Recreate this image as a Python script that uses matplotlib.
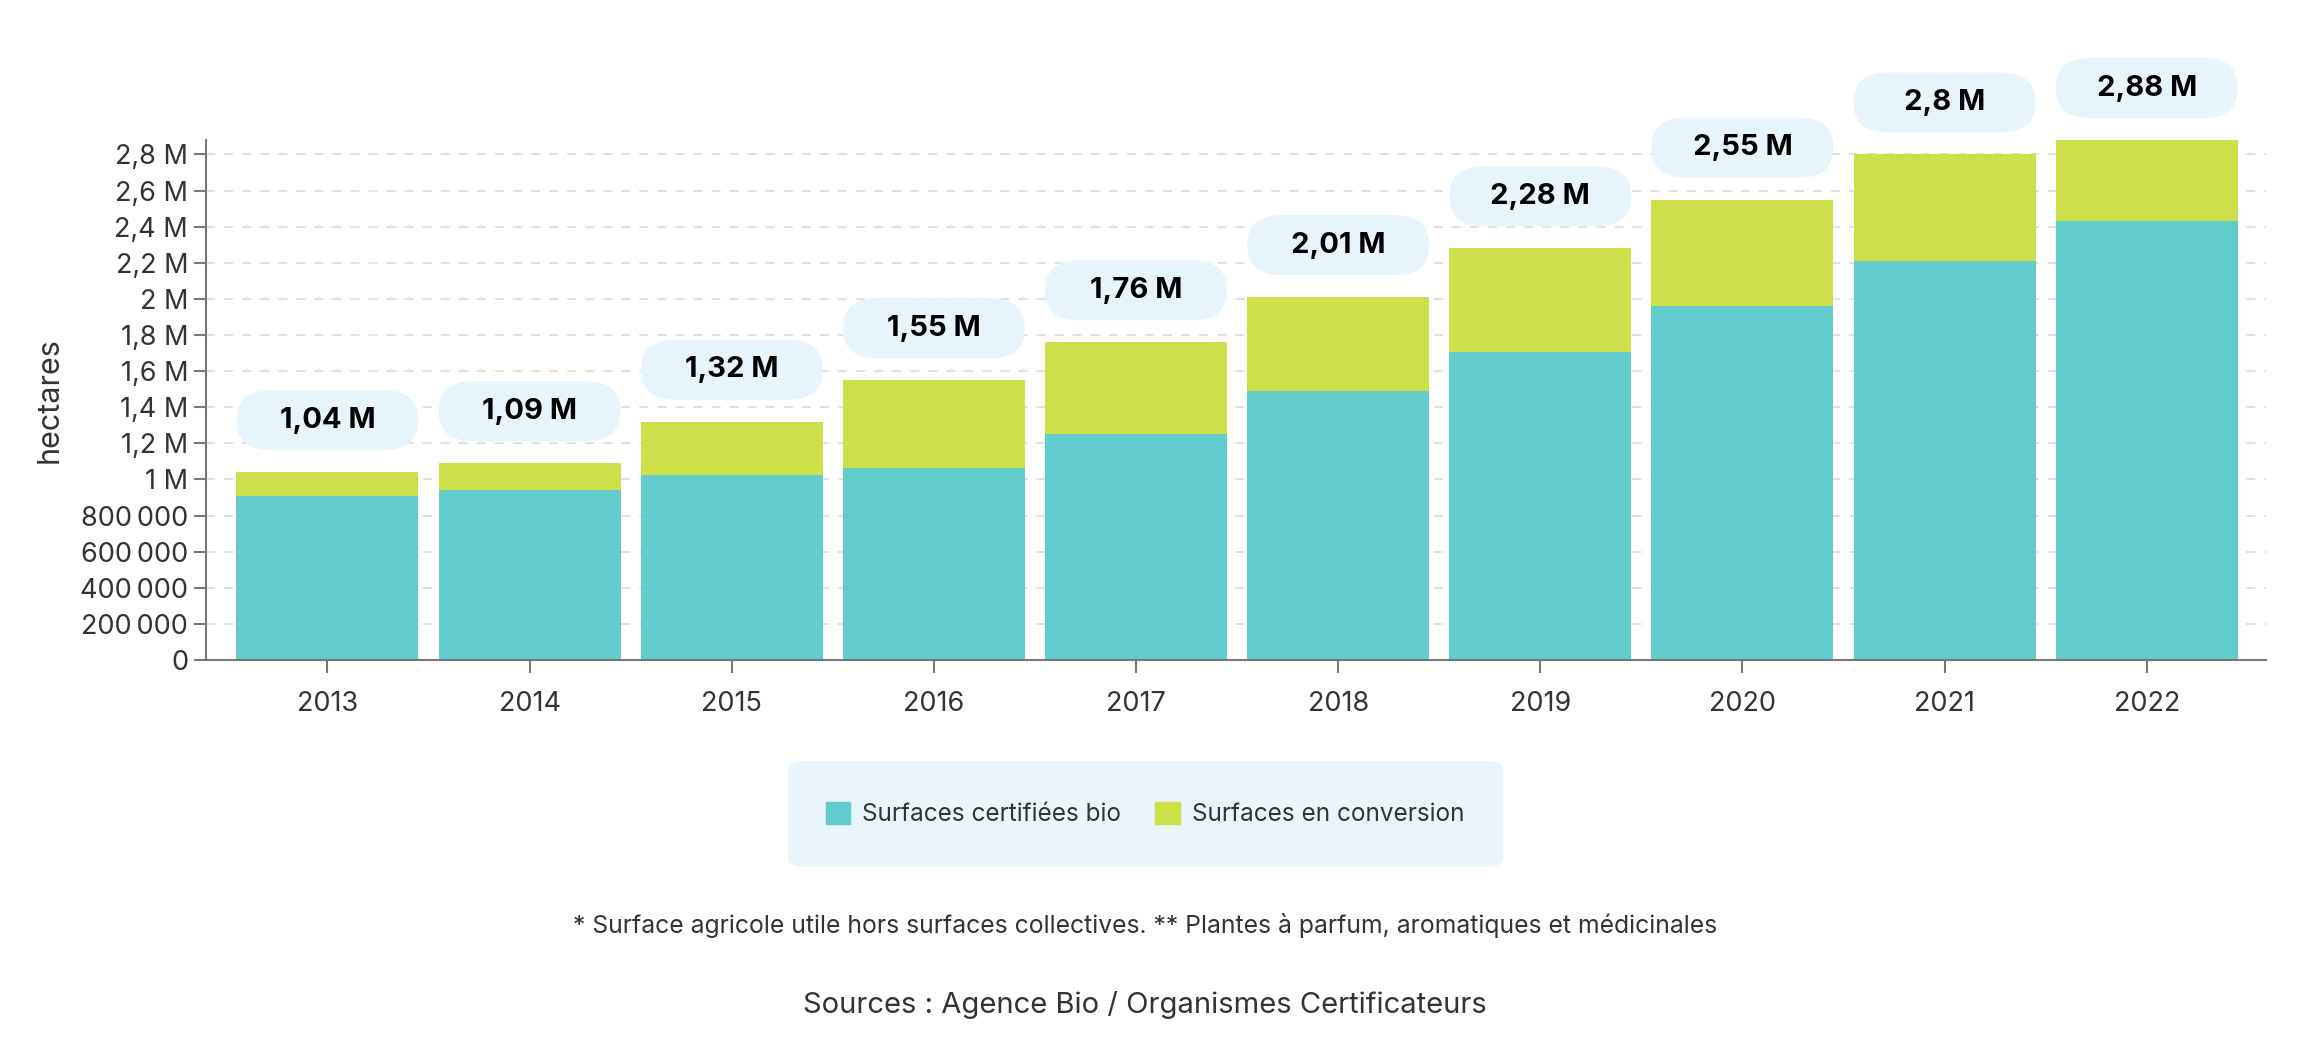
import numpy as np
import matplotlib
matplotlib.use("Agg")
import matplotlib.pyplot as plt
from matplotlib.patches import FancyBboxPatch, Patch

plt.rcParams['font.family'] = ['Inter', 'DejaVu Sans']

# data (hectares)
years = ['2013', '2014', '2015', '2016', '2017', '2018', '2019', '2020', '2021', '2022']
certified = [906000, 939000, 1022000, 1063000, 1250000, 1490000, 1708000, 1960000, 2210000, 2430000]
conversion = [134000, 151000, 298000, 487000, 510000, 520000, 572000, 590000, 590000, 450000]
total_labels = ['1,04 M', '1,09 M', '1,32 M', '1,55 M', '1,76 M', '2,01 M', '2,28 M', '2,55 M', '2,8 M', '2,88 M']
ytick_vals = [0, 200000, 400000, 600000, 800000, 1000000, 1200000, 1400000, 1600000,
              1800000, 2000000, 2200000, 2400000, 2600000, 2800000]
ytick_labels = ['0', '200\u2009000', '400\u2009000', '600\u2009000', '800\u2009000', '1 M', '1,2 M', '1,4 M',
                '1,6 M', '1,8 M', '2 M', '2,2 M', '2,4 M', '2,6 M', '2,8 M']

teal = '#62cbcb'
lime = '#cde04a'
pill = '#e8f4fb'
txt = '#333333'

fig = plt.figure(figsize=(23.08, 10.42), dpi=100)
ax = fig.add_axes([0.0893, 0.3666, 0.8925, 0.499])

X = np.arange(len(years))
cert = np.array(certified)
conv = np.array(conversion)
ax.bar(X, cert, width=0.9, color=teal, zorder=2)
ax.bar(X, conv, bottom=cert, width=0.9, color=lime, zorder=2)

ax.set_xlim(-0.6, 9.59)
ax.set_ylim(0, 2880000)

# value pills above bars (elliptical ends)
px_y = 2880000 / 520.0
px_x = 10.19 / 2060.0
h = 60 * px_y
rx = 34 * px_x
aspect = (30 * px_y) / rx
for x, top, lab in zip(X, cert + conv, total_labels):
    yc = top + 52 * px_y
    p = FancyBboxPatch((x - 0.45, yc - h / 2), 0.9, h,
                       boxstyle="round,pad=0,rounding_size=%f" % rx,
                       mutation_aspect=aspect, facecolor=pill, edgecolor='none',
                       zorder=3, clip_on=False)
    ax.add_patch(p)
    ax.text(x, yc, lab, ha='center', va='center', fontsize=21, fontweight='bold',
            color='black', zorder=4)

ax.set_yticks(ytick_vals)
ax.set_yticklabels(ytick_labels)
ax.set_xticks(X)
ax.set_xticklabels(years)
ax.tick_params(axis='y', labelsize=19.5, colors='#777777', labelcolor=txt, length=9, width=1.5, pad=4)
ax.tick_params(axis='x', labelsize=19.5, colors='#777777', labelcolor=txt, length=9, width=1.5, pad=13)
ax.grid(axis='y', linestyle=(0, (5, 5)), color='#dddddd', linewidth=1.3, zorder=0)
for s in ['top', 'right']:
    ax.spines[s].set_visible(False)
ax.spines['left'].set_color('#777777')
ax.spines['bottom'].set_color('#777777')
ax.spines['left'].set_linewidth(1.5)
ax.spines['bottom'].set_linewidth(1.5)
ax.set_ylabel('hectares', fontsize=22, color=txt, labelpad=12)

# legend with rounded background
bg = FancyBboxPatch((788 / 2308, 1 - 867 / 1042), 715 / 2308, 106 / 1042,
                    boxstyle="round,pad=0,rounding_size=0.008",
                    transform=fig.transFigure, facecolor='#eaf4fb', edgecolor='none')
fig.patches.append(bg)
handles = [Patch(color=teal, label='Surfaces certifiées bio'),
           Patch(color=lime, label='Surfaces en conversion')]
fig.legend(handles=handles, loc='center', bbox_to_anchor=(1145 / 2308, 1 - 814 / 1042),
           ncol=2, frameon=False, fontsize=17.5, labelcolor=txt, handlelength=1.0,
           handleheight=1.0, handletextpad=0.5, columnspacing=1.4)

fig.text(0.4961, 1 - 926 / 1042,
         '* Surface agricole utile hors surfaces collectives. ** Plantes à parfum, aromatiques et médicinales',
         ha='center', va='center', fontsize=17.8, color=txt)
fig.text(0.4961, 1 - 1005 / 1042, 'Sources : Agence Bio / Organismes Certificateurs',
         ha='center', va='center', fontsize=21, color=txt)

fig.savefig('out.png', dpi=100)
